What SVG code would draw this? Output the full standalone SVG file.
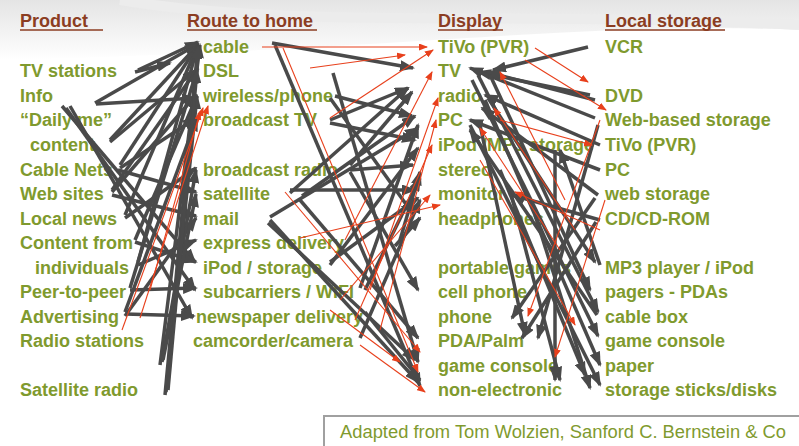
<svg xmlns="http://www.w3.org/2000/svg" width="799" height="446" viewBox="0 0 799 446">
<defs>
<linearGradient id="bg" x1="0" y1="0" x2="0" y2="1">
<stop offset="0" stop-color="#d9d9d9"/>
<stop offset="1" stop-color="#ffffff"/>
</linearGradient>
<marker id="ag" markerUnits="userSpaceOnUse" markerWidth="15" markerHeight="11" refX="13" refY="5.5" orient="auto">
<path d="M0,0 L15,5.5 L0,11 z" fill="#4a4a4a"/>
</marker>
<marker id="ar" markerUnits="userSpaceOnUse" markerWidth="9" markerHeight="7" refX="8" refY="3.5" orient="auto">
<path d="M0,0 L9,3.5 L0,7 z" fill="#e8401c"/>
</marker>
</defs>
<style>
.t{font-family:"Liberation Sans",Arial,sans-serif;font-weight:bold;font-size:18px;fill:#7f9a2e}
.h{font-family:"Liberation Sans",Arial,sans-serif;font-weight:bold;font-size:18px;fill:#8b3d22}
.u{stroke:#8b3d22;stroke-width:1.5}
.g{stroke:#4a4a4a;stroke-width:3.5;fill:none;marker-end:url(#ag)}
.r{stroke:#e8401c;stroke-width:1.1;fill:none;marker-end:url(#ar)}
.c{font-family:"Liberation Sans",Arial,sans-serif;font-size:17.5px;fill:#7f9a2e}
</style>
<rect x="0" y="0" width="799" height="446" fill="#ffffff"/>
<path d="M0,0 H799 V30 C600,20 400,50 0,60 Z" fill="url(#bg)" opacity="0.7"/>
<path d="M120,0 C300,30 500,10 799,25" stroke="#ececec" stroke-width="10" fill="none"/>

<g id="nodes">
<g id="h-product"><text class="h" x="20" y="27">Product</text><line class="u" x1="20" y1="30" x2="103" y2="30"/></g>
<g id="h-route"><text class="h" x="187" y="27">Route to home</text><line class="u" x1="187" y1="30" x2="317" y2="30"/></g>
<g id="h-display"><text class="h" x="438" y="27">Display</text><line class="u" x1="438" y1="30" x2="503" y2="30"/></g>
<g id="h-storage"><text class="h" x="605" y="27">Local storage</text><line class="u" x1="605" y1="30" x2="725" y2="30"/></g>

<g id="p-tv"><text class="t" x="20" y="77">TV stations</text></g>
<g id="p-info"><text class="t" x="20" y="102">Info</text></g>
<g id="p-daily"><text class="t" x="20" y="126">“Daily me”</text><text class="t" x="30" y="151">content</text></g>
<g id="p-cable"><text class="t" x="20" y="176">Cable Nets</text></g>
<g id="p-web"><text class="t" x="20" y="200">Web sites</text></g>
<g id="p-local"><text class="t" x="20" y="225">Local news</text></g>
<g id="p-content"><text class="t" x="20" y="249">Content from</text><text class="t" x="35" y="274">individuals</text></g>
<g id="p-p2p"><text class="t" x="20" y="298">Peer-to-peer</text></g>
<g id="p-adv"><text class="t" x="20" y="323">Advertising</text></g>
<g id="p-radio"><text class="t" x="20" y="347">Radio stations</text></g>
<g id="p-sat"><text class="t" x="20" y="396">Satellite radio</text></g>

<g id="r-cable"><text class="t" x="203" y="53">cable</text></g>
<g id="r-dsl"><text class="t" x="203" y="77">DSL</text></g>
<g id="r-wireless"><text class="t" x="203" y="102">wireless/phone</text></g>
<g id="r-btv"><text class="t" x="203" y="126">broadcast TV</text></g>
<g id="r-bradio"><text class="t" x="203" y="176">broadcast radio</text></g>
<g id="r-sat"><text class="t" x="203" y="200">satellite</text></g>
<g id="r-mail"><text class="t" x="203" y="225">mail</text></g>
<g id="r-express"><text class="t" x="203" y="249">express delivery</text></g>
<g id="r-ipod"><text class="t" x="203" y="274">iPod / storage</text></g>
<g id="r-sub"><text class="t" x="203" y="298">subcarriers / WIFI</text></g>
<g id="r-news"><text class="t" x="196" y="323">newspaper delivery</text></g>
<g id="r-cam"><text class="t" x="193" y="347">camcorder/camera</text></g>

<g id="d-tivo"><text class="t" x="438" y="53">TiVo (PVR)</text></g>
<g id="d-tv"><text class="t" x="438" y="77">TV</text></g>
<g id="d-radio"><text class="t" x="438" y="102">radio</text></g>
<g id="d-pc"><text class="t" x="438" y="126">PC</text></g>
<g id="d-ipod"><text class="t" x="438" y="151">iPod /MP3 storage</text></g>
<g id="d-stereo"><text class="t" x="438" y="176">stereo</text></g>
<g id="d-monitor"><text class="t" x="438" y="200">monitor</text></g>
<g id="d-head"><text class="t" x="438" y="225">headphones</text></g>
<g id="d-games"><text class="t" x="438" y="274">portable games</text></g>
<g id="d-cell"><text class="t" x="438" y="298">cell phone</text></g>
<g id="d-phone"><text class="t" x="438" y="323">phone</text></g>
<g id="d-pda"><text class="t" x="438" y="347">PDA/Palm</text></g>
<g id="d-console"><text class="t" x="438" y="372">game console</text></g>
<g id="d-nonel"><text class="t" x="438" y="396">non-electronic</text></g>

<g id="s-vcr"><text class="t" x="605" y="53">VCR</text></g>
<g id="s-dvd"><text class="t" x="605" y="102">DVD</text></g>
<g id="s-webb"><text class="t" x="605" y="126">Web-based storage</text></g>
<g id="s-tivo"><text class="t" x="605" y="151">TiVo (PVR)</text></g>
<g id="s-pc"><text class="t" x="605" y="176">PC</text></g>
<g id="s-webs"><text class="t" x="605" y="200">web storage</text></g>
<g id="s-cd"><text class="t" x="605" y="225">CD/CD-ROM</text></g>
<g id="s-mp3"><text class="t" x="605" y="274">MP3 player / iPod</text></g>
<g id="s-pagers"><text class="t" x="605" y="298">pagers - PDAs</text></g>
<g id="s-cablebox"><text class="t" x="605" y="323">cable box</text></g>
<g id="s-console"><text class="t" x="605" y="347">game console</text></g>
<g id="s-paper"><text class="t" x="605" y="372">paper</text></g>
<g id="s-sticks"><text class="t" x="605" y="396">storage sticks/disks</text></g>
</g>

<g id="connectors">
<!-- product to route -->
<line class="g" x1="138" y1="70" x2="198" y2="42"/>
<line class="g" x1="135" y1="72" x2="170" y2="63"/>
<line class="g" x1="95" y1="103" x2="198" y2="44"/>
<line class="g" x1="96" y1="104" x2="195" y2="98"/>
<line class="g" x1="62" y1="106" x2="195" y2="262"/>
<line class="g" x1="66" y1="108" x2="195" y2="290"/>
<line class="g" x1="70" y1="106" x2="192" y2="318"/>
<line class="g" x1="110" y1="140" x2="198" y2="45"/>
<line class="g" x1="110" y1="142" x2="196" y2="70"/>
<line class="g" x1="120" y1="165" x2="198" y2="45"/>
<line class="g" x1="120" y1="168" x2="196" y2="118"/>
<line class="g" x1="118" y1="170" x2="196" y2="192"/>
<line class="g" x1="112" y1="190" x2="198" y2="68"/>
<line class="g" x1="112" y1="192" x2="196" y2="95"/>
<line class="g" x1="112" y1="195" x2="196" y2="216"/>
<line class="g" x1="125" y1="215" x2="198" y2="45"/>
<line class="g" x1="125" y1="218" x2="196" y2="168"/>
<line class="g" x1="135" y1="240" x2="197" y2="96"/>
<line class="g" x1="135" y1="242" x2="196" y2="262"/>
<line class="g" x1="138" y1="262" x2="198" y2="45"/>
<line class="g" x1="138" y1="265" x2="196" y2="240"/>
<line class="g" x1="130" y1="288" x2="197" y2="70"/>
<line class="g" x1="130" y1="290" x2="196" y2="288"/>
<line class="g" x1="125" y1="312" x2="197" y2="118"/>
<line class="g" x1="125" y1="314" x2="194" y2="316"/>
<line class="g" x1="125" y1="316" x2="196" y2="218"/>
<line class="g" x1="160" y1="365" x2="200" y2="45"/>
<line class="g" x1="162" y1="362" x2="196" y2="170"/>
<line class="g" x1="163" y1="360" x2="196" y2="194"/>
<line class="g" x1="165" y1="395" x2="198" y2="46"/>
<line class="g" x1="166" y1="392" x2="197" y2="96"/>
<line class="g" x1="168" y1="390" x2="197" y2="70"/>
<line class="r" x1="122" y1="330" x2="203" y2="108"/>
<line class="r" x1="140" y1="318" x2="208" y2="106"/>
<line class="r" x1="150" y1="290" x2="200" y2="112"/>
<!-- route to display -->
<line class="g" x1="272" y1="43" x2="413" y2="68"/>
<line class="g" x1="275" y1="45" x2="420" y2="386"/>
<line class="g" x1="333" y1="73" x2="418" y2="362"/>
<line class="g" x1="335" y1="96" x2="412" y2="116"/>
<line class="g" x1="330" y1="98" x2="413" y2="214"/>
<line class="g" x1="330" y1="120" x2="408" y2="88"/>
<line class="g" x1="330" y1="123" x2="415" y2="140"/>
<line class="g" x1="350" y1="165" x2="412" y2="92"/>
<line class="g" x1="350" y1="170" x2="413" y2="165"/>
<line class="g" x1="350" y1="172" x2="418" y2="290"/>
<line class="g" x1="290" y1="193" x2="408" y2="88"/>
<line class="g" x1="302" y1="196" x2="415" y2="116"/>
<line class="g" x1="290" y1="190" x2="415" y2="190"/>
<line class="g" x1="300" y1="200" x2="418" y2="338"/>
<line class="g" x1="270" y1="217" x2="418" y2="128"/>
<line class="g" x1="270" y1="220" x2="418" y2="382"/>
<line class="g" x1="268" y1="223" x2="415" y2="360"/>
<line class="g" x1="400" y1="240" x2="420" y2="172"/>
<line class="g" x1="395" y1="246" x2="420" y2="218"/>
<line class="g" x1="330" y1="265" x2="418" y2="148"/>
<line class="g" x1="330" y1="262" x2="418" y2="198"/>
<line class="g" x1="365" y1="290" x2="420" y2="178"/>
<line class="g" x1="360" y1="288" x2="418" y2="125"/>
<line class="g" x1="365" y1="312" x2="420" y2="380"/>
<line class="g" x1="360" y1="338" x2="420" y2="200"/>
<line class="r" x1="262" y1="47" x2="427" y2="47"/>
<line class="r" x1="310" y1="68" x2="405" y2="55"/>
<line class="r" x1="330" y1="118" x2="433" y2="50"/>
<line class="r" x1="283" y1="48" x2="418" y2="372"/>
<line class="r" x1="285" y1="192" x2="420" y2="352"/>
<line class="r" x1="340" y1="300" x2="430" y2="195"/>
<line class="r" x1="355" y1="320" x2="432" y2="145"/>
<line class="r" x1="380" y1="330" x2="436" y2="120"/>
<line class="r" x1="370" y1="290" x2="438" y2="98"/>
<line class="r" x1="330" y1="310" x2="400" y2="362"/>
<line class="r" x1="360" y1="345" x2="425" y2="392"/>
<line class="r" x1="345" y1="240" x2="432" y2="72"/>
<line class="r" x1="300" y1="238" x2="440" y2="205"/>
<!-- storage and display -->
<line class="g" x1="588" y1="47" x2="493" y2="70"/>
<line class="g" x1="590" y1="95" x2="478" y2="72"/>
<line class="g" x1="595" y1="118" x2="470" y2="68"/>
<line class="g" x1="595" y1="100" x2="487" y2="72"/>
<line class="g" x1="600" y1="145" x2="485" y2="95"/>
<line class="g" x1="600" y1="170" x2="470" y2="120"/>
<line class="g" x1="598" y1="195" x2="482" y2="108"/>
<line class="g" x1="600" y1="220" x2="512" y2="195"/>
<line class="g" x1="600" y1="265" x2="560" y2="150"/>
<line class="g" x1="478" y1="75" x2="598" y2="312"/>
<line class="g" x1="472" y1="80" x2="598" y2="336"/>
<line class="g" x1="485" y1="100" x2="600" y2="365"/>
<line class="g" x1="470" y1="125" x2="600" y2="385"/>
<line class="g" x1="480" y1="125" x2="525" y2="335"/>
<line class="g" x1="490" y1="75" x2="590" y2="290"/>
<line class="g" x1="488" y1="98" x2="595" y2="262"/>
<line class="g" x1="595" y1="198" x2="512" y2="318"/>
<line class="g" x1="596" y1="222" x2="522" y2="338"/>
<line class="g" x1="598" y1="125" x2="538" y2="338"/>
<line class="g" x1="510" y1="190" x2="560" y2="380"/>
<line class="g" x1="535" y1="215" x2="590" y2="388"/>
<line class="g" x1="500" y1="170" x2="585" y2="375"/>
<line class="g" x1="555" y1="150" x2="555" y2="380"/>
<line class="g" x1="597" y1="315" x2="470" y2="130"/>
<line class="r" x1="535" y1="48" x2="588" y2="82"/>
<line class="r" x1="525" y1="60" x2="606" y2="110"/>
<line class="r" x1="565" y1="200" x2="500" y2="72"/>
<line class="r" x1="575" y1="230" x2="494" y2="108"/>
<line class="r" x1="560" y1="250" x2="480" y2="128"/>
<line class="r" x1="500" y1="120" x2="592" y2="145"/>
<line class="r" x1="600" y1="230" x2="515" y2="192"/>
<line class="r" x1="600" y1="120" x2="528" y2="316"/>
<line class="r" x1="605" y1="200" x2="555" y2="357"/>
<line class="r" x1="480" y1="160" x2="575" y2="325"/>
</g>

<g id="caption">
<rect x="324" y="416" width="478" height="32" fill="#ffffff" stroke="#a0a0a0" stroke-width="2"/>
<text class="c" x="340" y="438" textLength="446" lengthAdjust="spacingAndGlyphs">Adapted from Tom Wolzien, Sanford C. Bernstein &amp; Co</text>
</g>
</svg>
